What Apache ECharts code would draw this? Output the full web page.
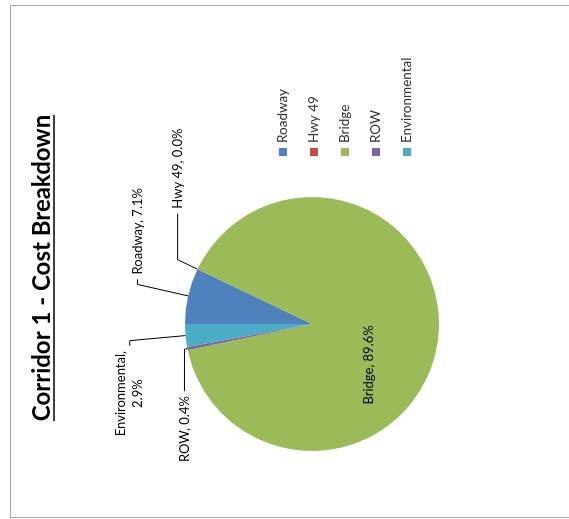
<!DOCTYPE html>
<html>
<head>
<meta charset="utf-8">
<script src="https://cdn.jsdelivr.net/npm/echarts@6/dist/echarts.min.js"></script>
<style>
html, body { margin: 0; padding: 0; background: #fff; overflow: hidden; width: 569px; height: 519px; }
#frame { position: absolute; left: 10px; top: 5px; width: 580px; height: 511px; border: 1px solid #a6a6a6; }
/* the sheet is printed sideways: draw the upright chart, then turn it a quarter left */
#chart { position: absolute; left: 25px; top: -25px; width: 519px; height: 569px; transform: rotate(-90deg); }
</style>
</head>
<body>
<div id="frame"></div>
<div id="chart"></div>
<script>
var titleText = 'Corridor 1 - Cost Breakdown';
var categories = ['Roadway', 'Hwy 49', 'Bridge', 'ROW', 'Environmental'];
var costShare = [7.1, 0.02, 89.6, 0.4, 2.9];   // percent of corridor cost
var sliceColors = ['#4F81BD', '#C0504D', '#9BBB59', '#8064A2', '#4BACC6'];

var FONT = 'Lato, Carlito, "Liberation Sans", sans-serif';
var titleSize = 24;

// per-slice label tweaks (leader lengths, inside label for the big slice)
var labelTweaks = {
  'Roadway':       { labelLine: { length: 52, length2: 5 } },
  'Hwy 49':        { labelLine: { length: 22, length2: 46 } },
  'Bridge':        { label: { position: 'inside', offset: [-33, -9] }, labelLine: { show: false } },
  'ROW':           { labelLine: { length: 3, length2: 42 } },
  'Environmental': { labelLine: { length: 56, length2: 5 } }
};

function sliceLabel(p) {
  var pct = p.percent.toFixed(1) + '%';
  if (p.name.length > 10) {
    return '{c|' + p.name + ',}\n{c|' + pct + '}';
  }
  return p.name + ', ' + pct;
}

var pieData = categories.map(function (name, i) {
  var item = { name: name, value: costShare[i], itemStyle: { color: sliceColors[i] } };
  var t = labelTweaks[name] || {};
  if (t.label) item.label = t.label;
  if (t.labelLine) item.labelLine = t.labelLine;
  return item;
});

// title width for the underline
var ctx = document.createElement('canvas').getContext('2d');
ctx.font = 'bold ' + titleSize + 'px ' + FONT;
var titleW = ctx.measureText(titleText).width;
var titleCx = 251;

var chart = echarts.init(document.getElementById('chart'));
var option = {
  backgroundColor: 'transparent',
  animation: false,
  title: {
    text: titleText,
    left: titleCx,
    textAlign: 'center',
    top: 30,
    padding: 0,
    textStyle: { fontFamily: FONT, fontSize: titleSize, fontWeight: 'bold', color: '#000' }
  },
  graphic: [{
    type: 'line',
    silent: true,
    shape: { x1: titleCx - titleW / 2, y1: 54, x2: titleCx + titleW / 2, y2: 54 },
    style: { stroke: '#000', lineWidth: 1.5 }
  }],
  legend: {
    orient: 'vertical',
    left: 363,
    top: 276,
    padding: 0,
    itemWidth: 8,
    itemHeight: 8,
    itemGap: 17,
    icon: 'rect',
    selectedMode: false,
    data: categories,
    textStyle: { fontFamily: FONT, fontSize: 13.5, color: '#333', lineHeight: 14 }
  },
  series: [{
    type: 'pie',
    center: [195, 312],
    radius: 127,
    startAngle: 90,
    clockwise: true,
    avoidLabelOverlap: false,
    silent: true,
    itemStyle: { borderWidth: 0 },
    label: {
      show: true,
      position: 'outside',
      formatter: sliceLabel,
      fontFamily: FONT,
      fontSize: 13,
      color: '#000',
      rich: {
        c: { width: 86, align: 'center', fontFamily: FONT, fontSize: 13, color: '#000', lineHeight: 17 }
      }
    },
    labelLine: {
      show: true,
      smooth: false,
      lineStyle: { color: '#000', width: 1 }
    },
    data: pieData
  }]
};
chart.setOption(option);
</script>
</body>
</html>
